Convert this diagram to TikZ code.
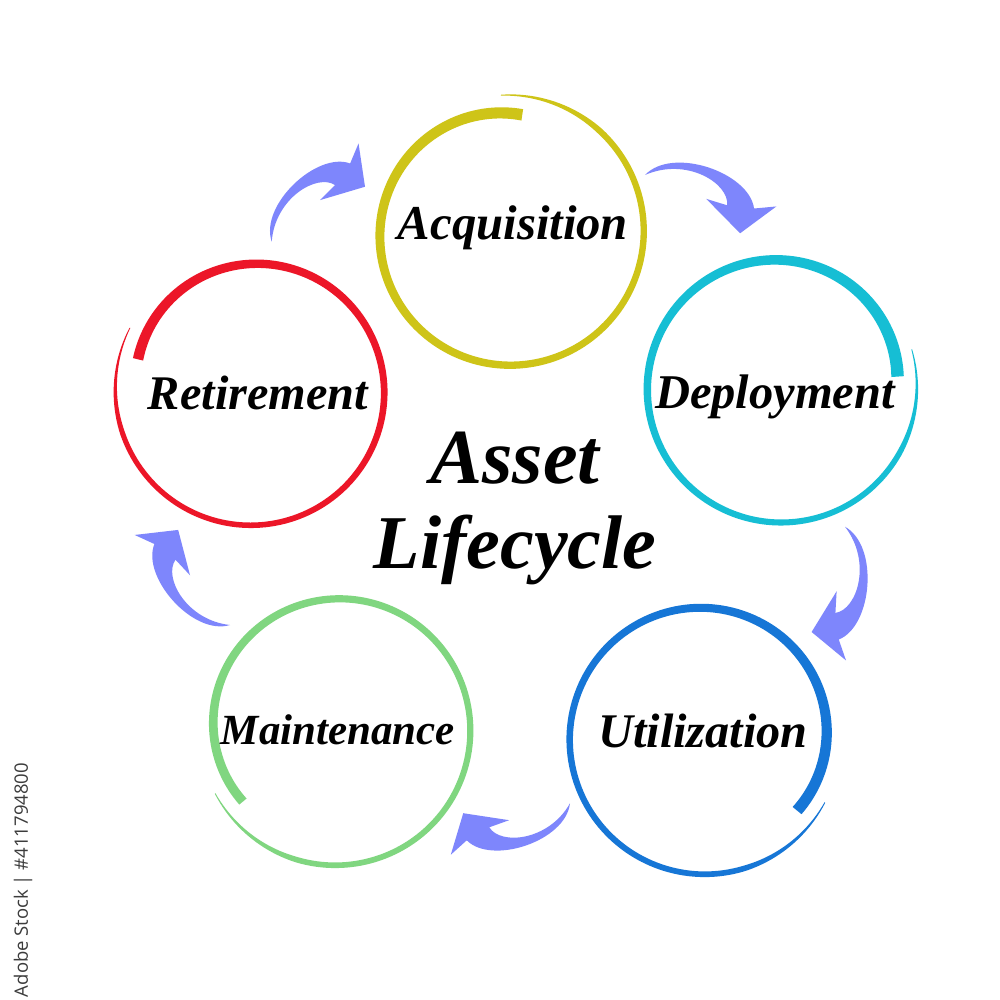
\documentclass[tikz,border=0pt]{standalone}
\usepackage{fontspec}
\setmainfont{Liberation Serif}
\newfontfamily\wmfont{Open Sans}
\definecolor{acqcol}{RGB}{206,196,24}
\definecolor{depcol}{RGB}{22,190,212}
\definecolor{utilcol}{RGB}{22,118,214}
\definecolor{maintcol}{RGB}{128,214,128}
\definecolor{retcol}{RGB}{236,22,40}
\definecolor{arrowcol}{RGB}{126,134,252}
\definecolor{wmcol}{RGB}{60,60,60}
% brush ring: cx, cy, R, start angle, sweep, wmax, wmin, colour
\newcommand{\brushring}[8]{%
  \begin{scope}[declare function={rr(\x)=#3-15*(1-\x)*(1-\x)*(1-\x)+4*\x;
      ww(\x)=(#7+(#6-#7)*(1-\x)*(1-\x))*min(1,0.15+7*(1-\x));
      aa(\x)=#4+#5*\x;}]
    \fill[#8] plot[domain=0:1,samples=180,variable=\t]
      ({#1+(rr(\t)+ww(\t)/2)*cos(aa(\t))},{#2+(rr(\t)+ww(\t)/2)*sin(aa(\t))})
      -- plot[domain=1:0,samples=180,variable=\t]
      ({#1+(rr(\t)-ww(\t)/2)*cos(aa(\t))},{#2+(rr(\t)-ww(\t)/2)*sin(aa(\t))})
      -- cycle;
  \end{scope}}
% fat curved arrow: tail x, tail y, chord angle, scale
\newcommand{\fatarrow}[4]{%
  \begin{scope}[shift={(#1,#2)},rotate=#3,scale=#4]
    \fill[arrowfill] (0,0) .. controls (8,-38) and (85,-55) .. (107.3,-27.6)
      -- (124.7,-40.6) -- (108.3,0) -- (62.8,-11.3) -- (83.4,-16.6)
      .. controls (74,-36) and (25,-36) .. (0,0) -- cycle;
  \end{scope}}
\tikzset{
  arrowfill/.style={fill=arrowcol},
  label/.style={anchor=base,inner sep=0pt,font=\bfseries\itshape},
}
\begin{document}
\begin{tikzpicture}[x=1pt,y=-1pt]
\useasboundingbox (0,0) rectangle (1000,1000);
\fill[white] (0,0) rectangle (1000,1000);
% rings
\brushring{508}{232}{133}{277}{-370}{11.5}{6}{acqcol}
\brushring{780}{387}{133}{355}{-371}{12.5}{5.5}{depcol}
\brushring{704}{738}{133}{38}{-370}{11.5}{5.5}{utilcol}
\brushring{336}{729}{133}{142}{370}{9.5}{5.5}{maintcol}
\brushring{252}{390}{133}{195}{372}{10.5}{5}{retcol}
% arrows
\fatarrow{271.7}{241.7}{30.5}{1.0}
\fatarrow{645}{175}{-31.5}{1.03}
\fatarrow{845}{526.7}{-107.6}{1.02}
\fatarrow{570}{803.3}{185.3}{0.99}
\fatarrow{230}{625}{118.6}{1.0}
% labels
\node[label,font=\fontsize{48.7}{50}\selectfont\bfseries\itshape] (acq) at (513,240) {Acquisition};
\node[label,font=\fontsize{48.5}{50}\selectfont\bfseries\itshape] (dep) at (775,408) {Deployment};
\node[label,font=\fontsize{48.3}{50}\selectfont\bfseries\itshape] (util) at (703,747) {Utilization};
\node[label,font=\fontsize{43}{45}\selectfont\bfseries\itshape] (maint) at (338,744) {Maintenance};
\node[label,font=\fontsize{48.3}{50}\selectfont\bfseries\itshape] (ret) at (258,409) {Retirement};
\node[label,font=\fontsize{78}{80}\selectfont\bfseries\itshape] (asset) at (515,483) {Asset};
\node[label,font=\fontsize{76}{80}\selectfont\bfseries\itshape] (life) at (515,568) {Lifecycle};
% stock watermark
\node[rotate=90,inner sep=0pt,text=wmcol,font=\wmfont\fontsize{18.5}{20}\selectfont] (wm) at (23,880) {Adobe Stock | \#411794800};
\end{tikzpicture}
\end{document}
